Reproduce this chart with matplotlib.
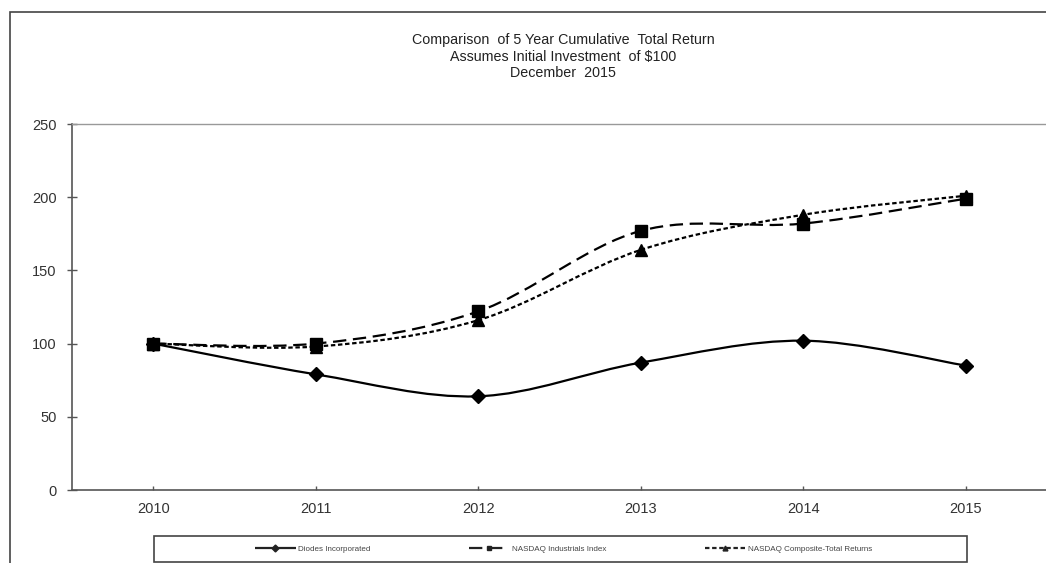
import matplotlib.pyplot as plt
import numpy as np
from matplotlib.path import Path
from matplotlib.patches import PathPatch, Rectangle
from matplotlib.lines import Line2D

plt.rcParams['font.family'] = ['Liberation Sans', 'DejaVu Sans']

years = ['2010', '2011', '2012', '2013', '2014', '2015']
diodes = [100, 79, 64, 87, 102, 85]
nasdaq_ind = [100, 100, 122, 177, 182, 199]
nasdaq_comp = [100, 98, 116, 164, 188, 201]

series_names = ['Diodes Incorporated', 'NASDAQ Industrials Index',
                'NASDAQ Composite-Total Returns']
title_lines = ['Comparison  of 5 Year Cumulative  Total Return',
               'Assumes Initial Investment  of $100',
               'December  2015']

grey = '#555555'


def smooth_path(xs, ys):
    # Bezier segments through the points (like Excel "smoothed line")
    pts = np.column_stack([xs, ys]).astype(float)
    n = len(pts)
    verts = [pts[0]]
    codes = [Path.MOVETO]
    for i in range(n - 1):
        p0 = pts[i - 1] if i > 0 else pts[i]
        p1 = pts[i]
        p2 = pts[i + 1]
        p3 = pts[i + 2] if i + 2 < n else pts[i + 1]
        c1 = p1 + (p2 - p0) / 6
        c2 = p2 - (p3 - p1) / 6
        verts += [c1, c2, p2]
        codes += [Path.CURVE4] * 3
    return Path(verts, codes)


fig = plt.figure(figsize=(10.46, 5.63), dpi=100)
ax = fig.add_axes([72/1046, 73/563, 975/1046, 366/563])

x = np.arange(len(years))
styles = [
    (diodes, 'D', 7, (0, ()), 1.6),
    (nasdaq_ind, 's', 8, (0, (6, 3)), 1.6),
    (nasdaq_comp, '^', 8, (0, (2, 1.2)), 1.6),
]
handles = []
for (vals, mk, ms, ls, lw) in styles:
    patch = PathPatch(smooth_path(x, vals), facecolor='none', edgecolor='black',
                      linestyle=ls, linewidth=lw, zorder=2)
    ax.add_patch(patch)
    ax.plot(x, vals, linestyle='none', marker=mk, markersize=ms, color='black', zorder=3)
    handles.append(Line2D([], [], color='#222222', linestyle=ls, linewidth=1.6,
                          marker=mk, markersize=3.5))

ax.set_xlim(-0.5, 5.5)
ax.set_ylim(0, 250)
ax.set_xticks(x)
ax.set_xticklabels(years)
ax.set_yticks([0, 50, 100, 150, 200, 250])
ax.tick_params(axis='y', direction='inout', length=7, width=1, color=grey,
               labelsize=10.5, labelcolor='#333333', pad=7.5)
ax.tick_params(axis='x', direction='in', length=3, width=1, color=grey,
               labelsize=10.5, labelcolor='#333333', pad=8.5)
for s in ['left', 'bottom']:
    ax.spines[s].set_color(grey)
    ax.spines[s].set_linewidth(1.2)
ax.spines['top'].set_color('#999999')
ax.spines['top'].set_linewidth(1)
ax.spines['right'].set_visible(False)

for i, line in enumerate(title_lines):
    fig.text(563/1046, 1 - (40 + 16.5*i)/563, line, ha='center', va='center',
             fontsize=10.3, color='#222222')

# outer frame
fig.patches.append(Rectangle((10/1046, -0.1), 1.1, 1 - 12/563 + 0.1,
                             transform=fig.transFigure, fill=False,
                             edgecolor='#444444', linewidth=1.2))
# legend frame
fig.patches.append(Rectangle((154/1046, 1/563), 813/1046, 26/563,
                             transform=fig.transFigure, fill=False,
                             edgecolor='#444444', linewidth=1.2))
fig.legend(handles, series_names, loc='center left', bbox_to_anchor=(248/1046, 14/563),
           ncol=3, frameon=False, fontsize=5.8, handlelength=5, handletextpad=0.35,
           columnspacing=12.2, labelcolor='#444444')

fig.savefig('out.png', dpi=100)
